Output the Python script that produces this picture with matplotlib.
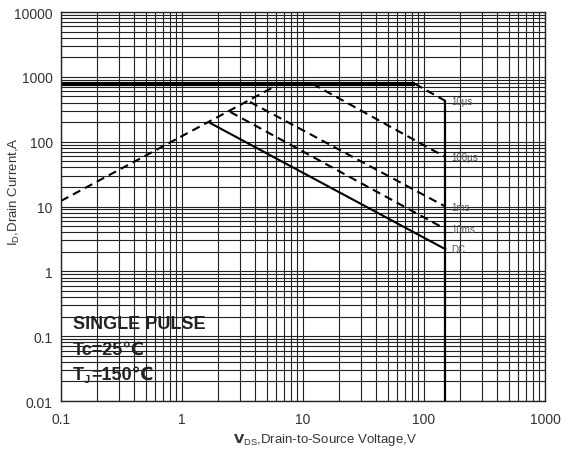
"""Safe operating area chart: drain current vs drain-to-source voltage (log-log)."""
import matplotlib
matplotlib.use('Agg')
import matplotlib.pyplot as plt
from matplotlib.ticker import LogLocator, FixedLocator, FixedFormatter

plt.rcParams['font.family'] = ['Liberation Sans', 'DejaVu Sans']

# R_DS(on) limit (dashed, rising)
V_RDS = [0.1, 6.4]
I_RDS = [12.2, 780]
# package current limit (thick solid)
V_LIMIT = [0.1, 84]
I_LIMIT = [780, 780]
# pulse curves, each (V, I) endpoints
V_10US = [84, 150]
I_10US = [780, 426]
V_100US = [12, 150]
I_100US = [780, 58]
V_1MS = [3.65, 150]
I_1MS = [410, 10]
V_10MS = [2.5, 150]
I_10MS = [288, 4.5]
V_DC = [1.7, 150]
I_DC = [195, 2.2]
# V_DSS breakdown limit
V_MAX = [150, 150]
I_MAX = [0.01, 426]

CURVE_LABELS = ['10µs', '100µs', '1ms', '10ms', 'DC']
LABEL_I = [I_10US[-1], I_100US[-1], I_1MS[-1], I_10MS[-1], I_DC[-1]]

X_TICKS = [0.1, 1, 10, 100, 1000]
X_TICKLABELS = ['0.1', '1', '10', '100', '1000']
Y_TICKS = [0.01, 0.1, 1, 10, 100, 1000, 10000]
Y_TICKLABELS = ['0.01', '0.1', '1', '10', '100', '1000', '10000']

fig = plt.figure(figsize=(5.61, 4.52), dpi=100)
ax = fig.add_axes([0.1087, 0.1106, 0.8628, 0.8606])
ax.set_xscale('log')
ax.set_yscale('log')
ax.set_xlim(0.1, 1000)
ax.set_ylim(0.01, 10000)

grid_kw = dict(color='#222222', linewidth=0.8)
ax.xaxis.set_minor_locator(LogLocator(base=10, subs=range(2, 10)))
ax.yaxis.set_minor_locator(LogLocator(base=10, subs=range(2, 10)))
ax.grid(True, which='both', **grid_kw)
ax.set_axisbelow(True)

ax.xaxis.set_major_locator(FixedLocator(X_TICKS))
ax.xaxis.set_major_formatter(FixedFormatter(X_TICKLABELS))
ax.yaxis.set_major_locator(FixedLocator(Y_TICKS))
ax.yaxis.set_major_formatter(FixedFormatter(Y_TICKLABELS))
ax.tick_params(which='both', length=0, labelsize=10, labelcolor='#333333')
ax.tick_params(axis='x', pad=8)
ax.tick_params(axis='y', pad=6)
for s in ax.spines.values():
    s.set_color('#222222')
    s.set_linewidth(1.0)

ax.plot(V_LIMIT, I_LIMIT, color='black', linewidth=3.0, solid_capstyle='butt')
ax.plot(V_RDS, I_RDS, color='black', linewidth=1.5, linestyle=(0, (4, 2.5)))
for v, i in [(V_10US, I_10US), (V_100US, I_100US), (V_1MS, I_1MS), (V_10MS, I_10MS)]:
    ax.plot(v, i, color='black', linewidth=1.5, linestyle=(0, (4, 2.5)))
ax.plot(V_DC, I_DC, color='black', linewidth=1.5)
ax.plot(V_MAX, I_MAX, color='black', linewidth=1.6)

for lab, i in zip(CURVE_LABELS, LABEL_I):
    ax.text(V_MAX[0] * 1.12, i, lab, fontsize=7, color='#555555',
            ha='left', va='center')

note_kw = dict(fontsize=13, fontweight='bold', color='#222222', ha='left', va='center')
ax.text(0.125, 0.155, 'SINGLE PULSE', **note_kw)
ax.text(0.125, 0.063, 'Tc=25℃', **note_kw)

# T_J line built from pieces so the subscript sits right after the T
fig.canvas.draw()
renderer = fig.canvas.get_renderer()
t_main = ax.text(0.125, 0.026, 'T', **note_kw)
bb = t_main.get_window_extent(renderer)
x_disp, y_disp = bb.x1, ax.transData.transform((0.125, 0.026))[1]
t_sub = ax.text(x_disp, y_disp - 5, 'J', fontsize=8, fontweight='bold',
                color='#222222', ha='left', va='center', transform=None)
bb2 = t_sub.get_window_extent(renderer)
ax.text(bb2.x1 + 1, y_disp, '=150℃', fontsize=13, fontweight='bold',
        color='#222222', ha='left', va='center', transform=None)

fig.text(0.58, 0.027, r'$\mathbf{V}_\mathregular{DS}$,Drain-to-Source Voltage,V',
         fontsize=9.5, color='#333333', ha='center', va='center')
fig.text(0.025, 0.575, r'I$_\mathregular{D}$,Drain Current,A', fontsize=9.5,
         color='#333333', ha='center', va='center', rotation=90)

fig.savefig('out.png', dpi=100)
